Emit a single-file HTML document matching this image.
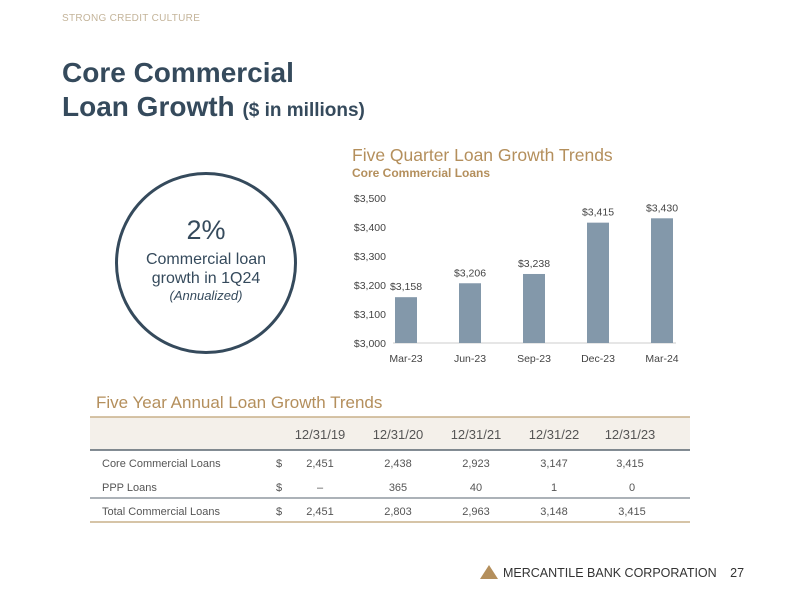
<!DOCTYPE html>
<html><head><meta charset="utf-8"><style>
body{margin:0;width:800px;height:604px;background:#fff;font-family:"Liberation Sans",sans-serif;position:relative;overflow:hidden}
.a{position:absolute;white-space:nowrap}
</style></head><body>
<div class="a" style="left:62px;top:13px;font-size:10px;color:#c4b49a;letter-spacing:0.3px">STRONG CREDIT CULTURE</div>
<div class="a" style="left:62px;top:56px;font-size:28px;font-weight:bold;color:#354a5c;line-height:34px">Core Commercial<br>Loan Growth <span style="font-size:19px">($ in millions)</span></div>

<div class="a" style="left:115px;top:172px;width:176px;height:176px;border:3px solid #354a5c;border-radius:50%;text-align:center;color:#354a5c">
<div style="margin-top:40px;font-size:27px">2%</div>
<div style="font-size:16px;line-height:19px;margin-top:4px">Commercial loan<br>growth in 1Q24</div>
<div style="font-size:13px;font-style:italic">(Annualized)</div>
</div>

<div class="a" style="left:352px;top:145px;font-size:17.5px;color:#b48f5c">Five Quarter Loan Growth Trends</div>
<div class="a" style="left:352px;top:166px;font-size:12px;font-weight:bold;color:#b48f5c">Core Commercial Loans</div>

<svg class="a" id="chart" style="left:0;top:0" width="800" height="604"></svg>

<div class="a" style="left:96px;top:393px;font-size:17px;color:#b48f5c">Five Year Annual Loan Growth Trends</div>
<svg class="a" style="left:0;top:0" width="800" height="604" font-family="Liberation Sans" font-size="11" fill="#555">
<rect x="90" y="417" width="600" height="33" fill="#f4f0ea"/>
<line x1="90" y1="417" x2="690" y2="417" stroke="#c8b08a" stroke-width="1.5"/>
<line x1="90" y1="450" x2="690" y2="450" stroke="#5a6670" stroke-width="1.5"/>
<line x1="90" y1="498" x2="690" y2="498" stroke="#5a6670" stroke-width="1"/>
<line x1="90" y1="522" x2="690" y2="522" stroke="#c8b08a" stroke-width="1.5"/>
<g font-size="13" text-anchor="middle" fill="#555">
<text x="320" y="439">12/31/19</text><text x="398" y="439">12/31/20</text><text x="476" y="439">12/31/21</text><text x="554" y="439">12/31/22</text><text x="630" y="439">12/31/23</text>
</g>
<g><text x="102" y="467">Core Commercial Loans</text><text x="102" y="491">PPP Loans</text><text x="102" y="515">Total Commercial Loans</text>
<text x="276" y="467">$</text><text x="276" y="491">$</text><text x="276" y="515">$</text></g>
<g text-anchor="middle">
<text x="320" y="467">2,451</text><text x="398" y="467">2,438</text><text x="476" y="467">2,923</text><text x="554" y="467">3,147</text><text x="630" y="467">3,415</text>
<text x="320" y="491">–</text><text x="398" y="491">365</text><text x="476" y="491">40</text><text x="554" y="491">1</text><text x="632" y="491">0</text>
<text x="320" y="515">2,451</text><text x="398" y="515">2,803</text><text x="476" y="515">2,963</text><text x="554" y="515">3,148</text><text x="632" y="515">3,415</text>
</g></svg>

<svg class="a" style="left:480px;top:565px" width="18" height="14"><polygon points="9,0 18,14 0,14" fill="#b48f5c"/></svg>
<div class="a" style="left:503px;top:566px;font-size:12.5px;color:#333">MERCANTILE BANK CORPORATION <span style="margin-left:10px">27</span></div>

<script>
const categories=["Mar-23","Jun-23","Sep-23","Dec-23","Mar-24"];
const values=[3158,3206,3238,3415,3430];
const valueLabels=["$3,158","$3,206","$3,238","$3,415","$3,430"];
const yTicks=[3000,3100,3200,3300,3400,3500];
const yTickLabels=["$3,000","$3,100","$3,200","$3,300","$3,400","$3,500"];
const ns="http://www.w3.org/2000/svg",svg=document.getElementById("chart");
const y=v=>343-(v-3000)*0.29;
const x=i=>406+i*64;
function mk(t,a,txt){const e=document.createElementNS(ns,t);for(const k in a)e.setAttribute(k,a[k]);if(txt!=null)e.textContent=txt;svg.appendChild(e);return e;}
const ax=mk("line",{x1:393,x2:676,y1:343,y2:343,stroke:"#ccc"});


yTicks.forEach((t,i)=>{const e=mk("text",{x:386,y:y(t)+4,"text-anchor":"end","font-size":"10.5","font-family":"Liberation Sans",fill:"#444"},yTickLabels[i]);

});
categories.forEach((c,i)=>{
const b=mk("rect",{x:x(i)-11,y:y(values[i]),width:22,height:343-y(values[i]),fill:"#8398aa"});


const l=mk("text",{x:x(i),y:y(values[i])-7,"text-anchor":"middle","font-size":"10.5","font-family":"Liberation Sans",fill:"#444"},valueLabels[i]);


const xl=mk("text",{x:x(i),y:362,"text-anchor":"middle","font-size":"10.5","font-family":"Liberation Sans",fill:"#444"},c);


});
</script>
</body></html>
